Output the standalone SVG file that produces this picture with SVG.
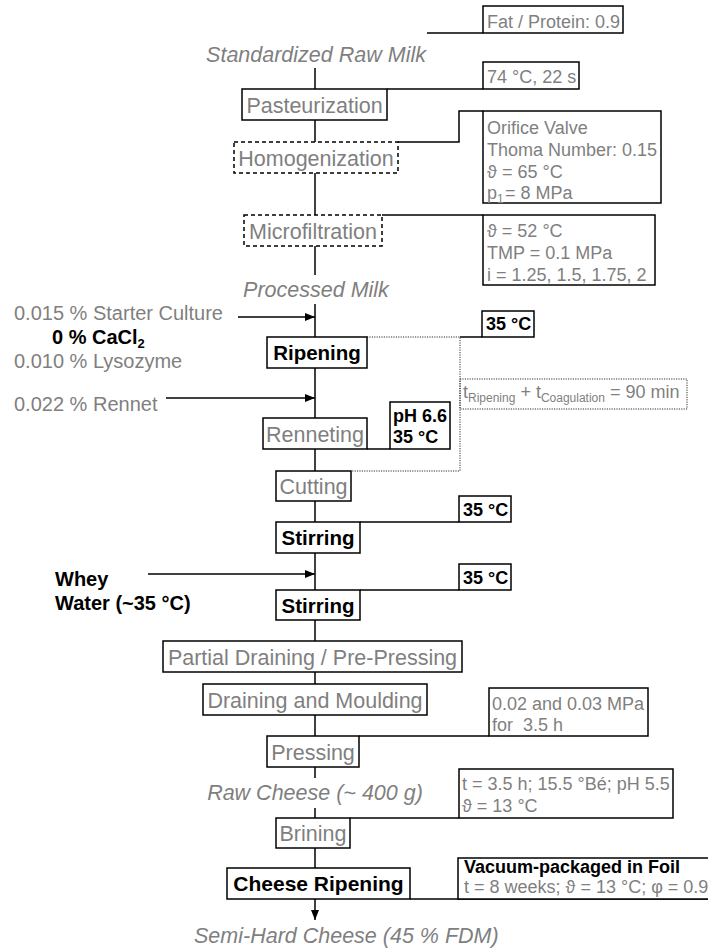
<svg xmlns="http://www.w3.org/2000/svg" width="708" height="952" viewBox="0 0 708 952">
<defs>
<style>
text{font-family:"Liberation Sans",Arial,sans-serif}
.bx{fill:#fff;stroke:#000;stroke-width:1.5}
.dbx{fill:#fff;stroke:#000;stroke-width:1.5;stroke-dasharray:4,3}
.ln{fill:none;stroke:#000;stroke-width:1.5}
.dot{fill:none;stroke:#333;stroke-width:1;stroke-dasharray:1.2,1.2}
.lbl{font-size:21.5px;fill:#7f7f7f;text-anchor:middle}
.blbl{font-size:20.5px;font-weight:bold;fill:#000;text-anchor:middle}
.it{font-size:21.5px;font-style:italic;fill:#7f7f7f;text-anchor:middle}
.note{font-size:18px;fill:#7f7f7f}
.bnote{font-size:18px;font-weight:bold;fill:#000}
.left{font-size:20px;fill:#7f7f7f}
.bleft{font-size:20px;font-weight:bold;fill:#000}
</style>
<marker id="ah" viewBox="0 0 10 10" refX="10" refY="5" markerWidth="10" markerHeight="10" markerUnits="userSpaceOnUse" orient="auto">
<path d="M0,1 L10,5 L0,9 Z" fill="#000"/>
</marker>
</defs>
<rect width="708" height="952" fill="#fff"/>

<g id="connectors">
<line class="ln" x1="315" y1="68" x2="315" y2="89"/>
<line class="ln" x1="315" y1="120" x2="315" y2="142"/>
<line class="ln" x1="315" y1="173" x2="315" y2="215"/>
<line class="ln" x1="315" y1="246" x2="315" y2="275"/>
<line class="ln" x1="315" y1="304" x2="315" y2="337"/>
<line class="ln" x1="315" y1="368" x2="315" y2="418"/>
<line class="ln" x1="315" y1="449" x2="315" y2="471"/>
<line class="ln" x1="315" y1="501" x2="315" y2="522"/>
<line class="ln" x1="315" y1="553" x2="315" y2="590"/>
<line class="ln" x1="315" y1="620" x2="315" y2="641"/>
<line class="ln" x1="315" y1="672" x2="315" y2="684"/>
<line class="ln" x1="315" y1="715" x2="315" y2="736"/>
<line class="ln" x1="315" y1="767" x2="315" y2="778"/>
<line class="ln" x1="315" y1="808" x2="315" y2="818"/>
<line class="ln" x1="315" y1="848" x2="315" y2="868"/>
<line class="ln" x1="315" y1="899" x2="315" y2="920" marker-end="url(#ah)"/>
<line class="ln" x1="238" y1="317" x2="315" y2="317" marker-end="url(#ah)"/>
<line class="ln" x1="166" y1="398" x2="315" y2="398" marker-end="url(#ah)"/>
<line class="ln" x1="148" y1="574" x2="315" y2="574" marker-end="url(#ah)"/>
<line class="ln" x1="427" y1="33" x2="483" y2="33"/>
<line class="ln" x1="387" y1="89" x2="483" y2="89"/>
<polyline class="ln" points="398,142 459,142 459,111 483,111"/>
<line class="ln" x1="382" y1="215" x2="483" y2="215"/>
<line class="ln" x1="460" y1="337" x2="482" y2="337"/>
<polyline class="dot" points="367,337 460,337 460,471 352,471"/>
<line class="ln" x1="367" y1="449" x2="390" y2="449"/>
<line class="ln" x1="360" y1="522" x2="459" y2="522"/>
<line class="ln" x1="360" y1="590" x2="459" y2="590"/>
<line class="ln" x1="359" y1="736" x2="489" y2="736"/>
<line class="ln" x1="350" y1="818" x2="459" y2="818"/>
<line class="ln" x1="410" y1="899" x2="708" y2="899"/>
</g>

<g id="standardized-raw-milk"><text class="it" x="316" y="62">Standardized Raw Milk</text></g>
<g id="fat-protein"><rect class="bx" x="483" y="6" width="140" height="27"/><text class="note" x="487" y="28">Fat / Protein: 0.9</text></g>
<g id="pasteurization"><rect class="bx" x="242" y="89" width="145" height="31"/><text class="lbl" x="314.5" y="113">Pasteurization</text></g>
<g id="pasteurization-note"><rect class="bx" x="483" y="62" width="96" height="27"/><text class="note" x="487" y="83">74 °C, 22 s</text></g>
<g id="homogenization"><rect class="dbx" x="234" y="142" width="164" height="31"/><text class="lbl" x="316" y="166">Homogenization</text></g>
<g id="homogenization-note"><rect class="bx" x="483" y="111" width="178" height="92"/>
<text class="note" x="487" y="134">Orifice Valve</text>
<text class="note" x="487" y="156">Thoma Number: 0.15</text>
<text class="note" x="487" y="178">ϑ<tspan x="502">= 65 °C</tspan></text>
<text class="note" x="487" y="199">p<tspan font-size="12" dy="4">1</tspan><tspan x="505" dy="-4">= 8 MPa</tspan></text></g>
<g id="microfiltration"><rect class="dbx" x="244" y="215" width="138" height="31"/><text class="lbl" x="313" y="239">Microfiltration</text></g>
<g id="microfiltration-note"><rect class="bx" x="483" y="215" width="172" height="70"/>
<text class="note" x="487" y="237">ϑ = 52 °C</text>
<text class="note" x="487" y="259">TMP = 0.1 MPa</text>
<text class="note" x="487" y="281">i = 1.25, 1.5, 1.75, 2</text></g>
<g id="processed-milk"><text class="it" x="316" y="297">Processed Milk</text></g>
<g id="additives"><text class="left" x="14" y="320">0.015 % Starter Culture</text>
<text class="bleft" x="52" y="344">0 % CaCl<tspan font-size="13" dy="4">2</tspan></text>
<text class="left" x="14" y="368">0.010 % Lysozyme</text></g>
<g id="rennet"><text class="left" x="14" y="411">0.022 % Rennet</text></g>
<g id="ripening"><rect class="bx" x="267" y="337" width="100" height="31"/><text class="blbl" x="317" y="360">Ripening</text></g>
<g id="ripening-note"><rect class="bx" x="482" y="311" width="52" height="26"/><text class="bnote" x="486" y="330">35 °C</text></g>
<g id="time-note"><rect class="dot" x="460" y="379" width="227" height="30"/><text class="note" x="463" y="398">t<tspan font-size="12" dy="4">Ripening</tspan><tspan dy="-4"> + t</tspan><tspan font-size="12" dy="4">Coagulation</tspan><tspan dy="-4"> = 90 min</tspan></text></g>
<g id="renneting"><rect class="bx" x="263" y="418" width="104" height="31"/><text class="lbl" x="315" y="442">Renneting</text></g>
<g id="renneting-note"><rect class="bx" x="390" y="402" width="60" height="47"/><text class="bnote" x="393" y="422">pH 6.6</text><text class="bnote" x="393" y="443">35 °C</text></g>
<g id="cutting"><rect class="bx" x="276" y="471" width="75" height="30"/><text class="lbl" x="313.5" y="494">Cutting</text></g>
<g id="stirring-1"><rect class="bx" x="276" y="522" width="84" height="31"/><text class="blbl" x="318" y="545">Stirring</text></g>
<g id="stirring-1-note"><rect class="bx" x="459" y="496" width="52" height="26"/><text class="bnote" x="463" y="516">35 °C</text></g>
<g id="whey-water"><text class="bleft" x="55" y="586">Whey</text><text class="bleft" x="55" y="610">Water (~35 °C)</text></g>
<g id="stirring-2"><rect class="bx" x="276" y="590" width="84" height="30"/><text class="blbl" x="318" y="613">Stirring</text></g>
<g id="stirring-2-note"><rect class="bx" x="459" y="564" width="52" height="26"/><text class="bnote" x="463" y="584">35 °C</text></g>
<g id="partial-draining"><rect class="bx" x="163" y="641" width="299" height="31"/><text class="lbl" x="312.5" y="665">Partial Draining / Pre-Pressing</text></g>
<g id="draining-moulding"><rect class="bx" x="203" y="684" width="224" height="31"/><text class="lbl" x="315" y="708">Draining and Moulding</text></g>
<g id="pressing"><rect class="bx" x="267" y="736" width="92" height="31"/><text class="lbl" x="313" y="760">Pressing</text></g>
<g id="pressing-note"><rect class="bx" x="489" y="688" width="159" height="48"/><text class="note" x="492" y="710">0.02 and 0.03 MPa</text><text class="note" x="492" y="731" xml:space="preserve">for  3.5 h</text></g>
<g id="raw-cheese"><text class="it" x="315" y="800">Raw Cheese (~ 400 g)</text></g>
<g id="brining"><rect class="bx" x="276" y="818" width="74" height="30"/><text class="lbl" x="313" y="841">Brining</text></g>
<g id="brining-note"><rect class="bx" x="459" y="769" width="214" height="49"/><text class="note" x="462" y="790">t = 3.5 h; 15.5 °Bé; pH 5.5</text><text class="note" x="462" y="812">ϑ = 13 °C</text></g>
<g id="cheese-ripening"><rect class="bx" x="227" y="868" width="183" height="31"/><text class="blbl" x="318.5" y="891" style="font-size:21px">Cheese Ripening</text></g>
<g id="cheese-ripening-note"><rect class="bx" x="458" y="858" width="270" height="41"/><text class="bnote" x="464" y="873">Vacuum-packaged in Foil</text><text class="note" x="464" y="893">t = 8 weeks; ϑ = 13 °C; φ = 0.9</text></g>
<g id="semi-hard-cheese"><text class="it" x="194" y="943" style="text-anchor:start">Semi-Hard Cheese (45 % FDM)</text></g>
</svg>
